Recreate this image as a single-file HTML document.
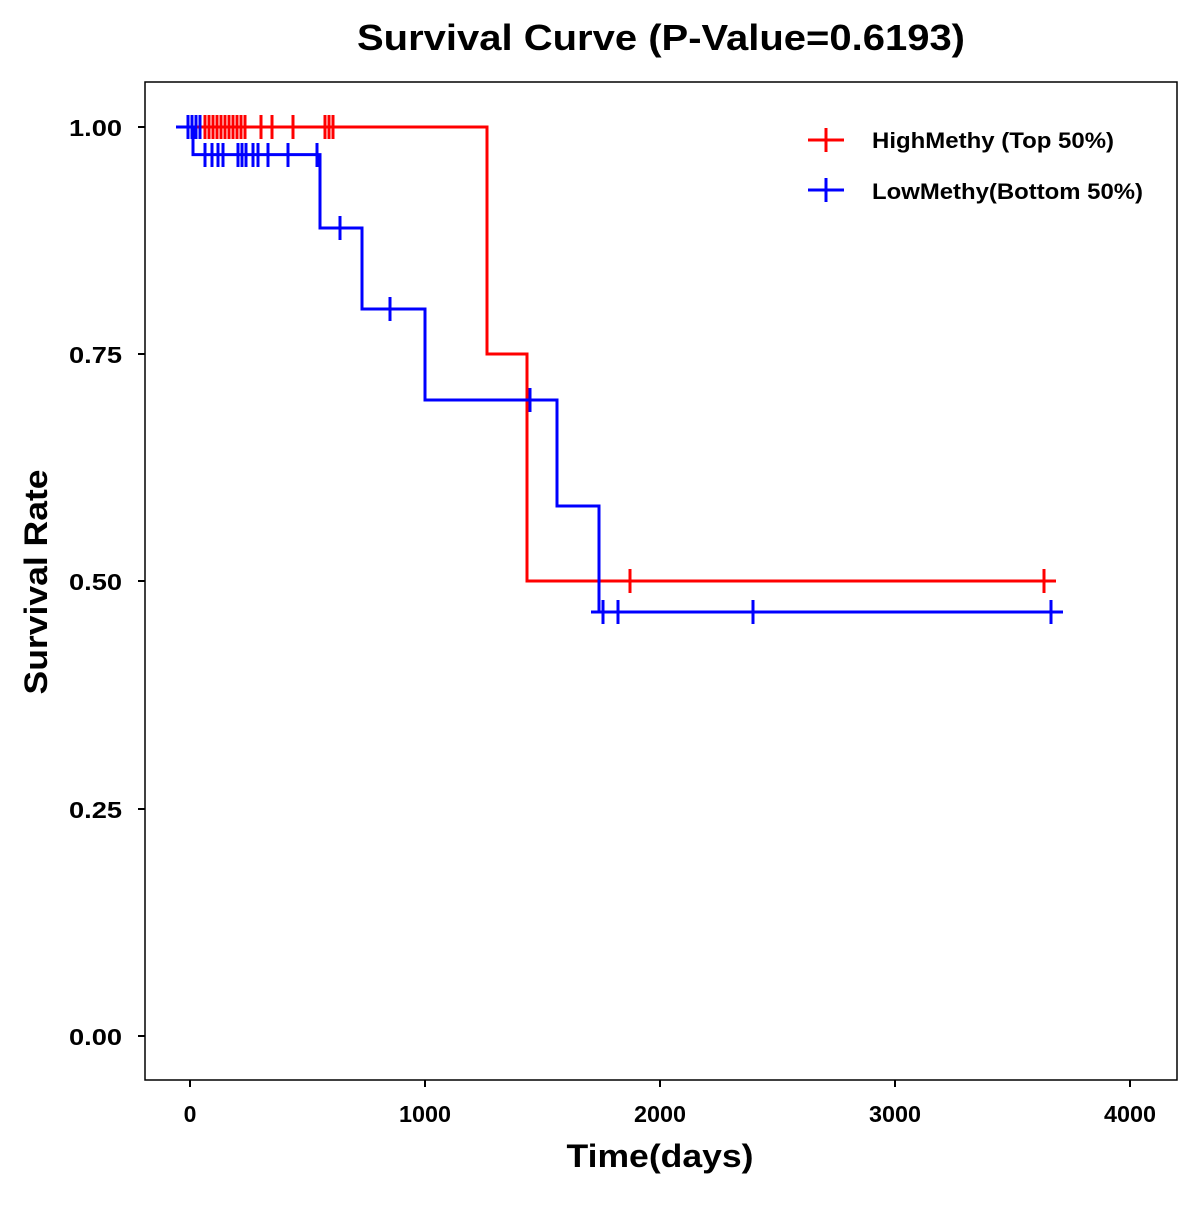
<!DOCTYPE html>
<html><head><style>body{margin:0;background:#fff}</style></head><body>
<svg width="1200" height="1200" xmlns="http://www.w3.org/2000/svg" font-family="Liberation Sans, Arial, sans-serif">
<rect width="1200" height="1200" fill="#fff"/>
<text x="661" y="50" text-anchor="middle" font-size="36" font-weight="bold" textLength="608" lengthAdjust="spacingAndGlyphs">Survival Curve (P-Value=0.6193)</text>
<rect x="145" y="82" width="1032" height="998" fill="none" stroke="#000" stroke-width="1.5"/>
<g stroke="#000" stroke-width="2">
<line x1="138" y1="127" x2="145" y2="127"/><line x1="138" y1="354" x2="145" y2="354"/><line x1="138" y1="581" x2="145" y2="581"/><line x1="138" y1="809" x2="145" y2="809"/><line x1="138" y1="1036" x2="145" y2="1036"/>
<line x1="190" y1="1080" x2="190" y2="1087"/><line x1="425" y1="1080" x2="425" y2="1087"/><line x1="660" y1="1080" x2="660" y2="1087"/><line x1="895" y1="1080" x2="895" y2="1087"/><line x1="1130" y1="1080" x2="1130" y2="1087"/>
</g>
<g font-size="23" font-weight="bold">
<text x="69" y="136" textLength="53" lengthAdjust="spacingAndGlyphs">1.00</text>
<text x="69" y="363" textLength="53" lengthAdjust="spacingAndGlyphs">0.75</text>
<text x="69" y="590" textLength="53" lengthAdjust="spacingAndGlyphs">0.50</text>
<text x="69" y="818" textLength="53" lengthAdjust="spacingAndGlyphs">0.25</text>
<text x="69" y="1045" textLength="53" lengthAdjust="spacingAndGlyphs">0.00</text>
</g>
<g font-size="23" font-weight="bold" text-anchor="middle">
<text x="190" y="1122">0</text>
<text x="425" y="1122" textLength="52" lengthAdjust="spacingAndGlyphs">1000</text>
<text x="660" y="1122" textLength="52" lengthAdjust="spacingAndGlyphs">2000</text>
<text x="895" y="1122" textLength="52" lengthAdjust="spacingAndGlyphs">3000</text>
<text x="1130" y="1122" textLength="52" lengthAdjust="spacingAndGlyphs">4000</text>
</g>
<text x="660" y="1167" text-anchor="middle" font-size="32" font-weight="bold" textLength="187" lengthAdjust="spacingAndGlyphs">Time(days)</text>
<text transform="translate(47,582) rotate(-90)" text-anchor="middle" font-size="32" font-weight="bold" textLength="225" lengthAdjust="spacingAndGlyphs">Survival Rate</text>
<g fill="none" stroke-width="3">
<path stroke="#f00" d="M176,127H487V354H527V581H1056"/>
<path stroke="#00f" d="M176,127H193V154.6H320V228H362V309H425V400H557V506H599V612H1063"/>
</g>
<g stroke="#f00" stroke-width="3">
<path d="M205,115v24M209,115v24M213,115v24M217,115v24M221,115v24M225,115v24M229,115v24M233,115v24M237,115v24M241,115v24M245,115v24M261,115v24M272,115v24M293,115v24M325,115v24M329,115v24M333,115v24"/>
<path d="M630,569v24M618,581h24M1044,569v24M1032,581h24"/>
<path d="M808,140h36M826,128v24"/>
</g>
<g stroke="#00f" stroke-width="3">
<path d="M188,115v24M192,115v24M196,115v24M200,115v24"/>
<path d="M205,143v24M212,143v24M218,143v24M223,143v24M238,143v24M242,143v24M246,143v24M253,143v24M258,143v24M268,143v24M288,143v24M317,143v24"/>
<path d="M340,216v24M328,228h24M390,297v24M378,309h24M530,388v24M518,400h24M603,600v24M591,612h24M618,600v24M606,612h24M753,600v24M741,612h24M1051,600v24M1039,612h24"/>
<path d="M808,190h36M826,178v24"/>
</g>
<g font-size="22" font-weight="bold">
<text x="872" y="148" textLength="242" lengthAdjust="spacingAndGlyphs">HighMethy (Top 50%)</text>
<text x="872" y="199" textLength="271" lengthAdjust="spacingAndGlyphs">LowMethy(Bottom 50%)</text>
</g>
</svg>
</body></html>
